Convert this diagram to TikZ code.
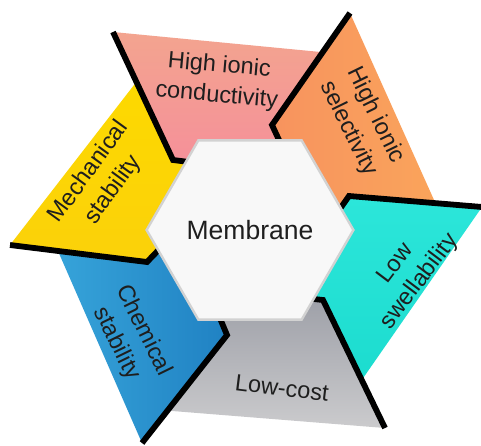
\documentclass[tikz,border=0pt]{standalone}
\usepackage{fontspec}
\setmainfont{Liberation Sans}
\usetikzlibrary{calc,shapes.geometric}

\definecolor{pinkTop}{HTML}{F3A48F}
\definecolor{pinkBot}{HTML}{F6869F}
\definecolor{orangeA}{HTML}{F7915F}
\definecolor{orangeB}{HTML}{FAA45B}
\definecolor{cyanTop}{HTML}{2CE6DA}
\definecolor{cyanBot}{HTML}{1CDCCF}
\definecolor{grayTop}{HTML}{878A95}
\definecolor{grayBot}{HTML}{CBCBCD}
\definecolor{blueL}{HTML}{36A3D9}
\definecolor{blueR}{HTML}{1D7DC0}
\definecolor{yellowTop}{HTML}{FDD900}
\definecolor{yellowBot}{HTML}{FBD10A}
\definecolor{hexFill}{HTML}{F8F8F8}
\definecolor{hexRim}{HTML}{D2D2D2}
\definecolor{labelInk}{HTML}{1E1E1E}

\begin{document}
\begin{tikzpicture}[x=1pt,y=-1pt,
  rim/.style={line width=5.8pt, black, line join=miter, line cap=butt},
  lbl/.style={font=\fontsize{23.5}{30}\selectfont, text=labelInk, align=center, inner sep=0pt},
  hexa/.style={regular polygon, regular polygon sides=6, minimum size=176pt,
    inner sep=0pt, fill=hexFill, draw=hexRim, line width=2.4pt,
    font=\fontsize{26.5}{30}\selectfont, text=labelInk},
]
\useasboundingbox (0,0) rectangle (481,445);
\fill[white] (0,0) rectangle (481,445);

% centre of the pinwheel
\coordinate (O) at (250,230);

% blade corners: A = outer end of the black rim, B = inner end, J = notch under the hub
\coordinate (Ap) at (113,32);  \coordinate (Bp) at (173,160); \coordinate (Jp) at (205,164);
\coordinate (Ao) at (350,13);  \coordinate (Bo) at (272,125); \coordinate (Jo) at (286,155);
\coordinate (Ac) at (482,207); \coordinate (Bc) at (349,196); \coordinate (Jc) at (330,223);
\coordinate (Ag) at (385,428); \coordinate (Bg) at (323,300); \coordinate (Jg) at (296,297);
\coordinate (Ab) at (142,443); \coordinate (Bb) at (227,335); \coordinate (Jb) at (214,304);
\coordinate (Ay) at (10,245);  \coordinate (By) at (147,262); \coordinate (Jy) at (170,238);

% trailing outer corners, lying on the next blade's rim
\coordinate (Tp) at ($(Ao)!0.35!(Bo)$);
\coordinate (To) at ($(Ac)!0.35!(Bc)$);
\coordinate (Tc) at ($(Ag)!0.375!(Bg)$);
\coordinate (Tg) at ($(Ab)!0.30!(Bb)$);
\coordinate (Tb) at ($(Ay)!0.35!(By)$);
\coordinate (Ty) at ($(Ap)!0.39!(Bp)$);

% blades
\shade[top color=pinkTop, bottom color=pinkBot]
  (Ap) -- (Bp) -- (Jp) -- (O) -- (Jo) -- (Bo) -- (Tp) -- cycle;
\shade[left color=orangeA, right color=orangeB]
  (Ao) -- (Bo) -- (Jo) -- (O) -- (Jc) -- (Bc) -- (To) -- cycle;
\shade[top color=cyanTop, bottom color=cyanBot]
  (Ac) -- (Bc) -- (Jc) -- (O) -- (Jg) -- (Bg) -- (Tc) -- cycle;
\shade[top color=grayTop, bottom color=grayBot]
  (Ag) -- (Bg) -- (Jg) -- (O) -- (Jb) -- (Bb) -- (Tg) -- cycle;
\shade[left color=blueL, right color=blueR]
  (Ab) -- (Bb) -- (Jb) -- (O) -- (Jy) -- (By) -- (Tb) -- cycle;
\shade[top color=yellowTop, bottom color=yellowBot]
  (Ay) -- (By) -- (Jy) -- (O) -- (Jp) -- (Bp) -- (Ty) -- cycle;

% black rims along the leading edges
\draw[rim] (Ap) -- (Bp) -- (Jp);
\draw[rim] (Ao) -- (Bo) -- (Jo);
\draw[rim] (Ac) -- (Bc) -- (Jc);
\draw[rim] (Ag) -- (Bg) -- (Jg);
\draw[rim] (Ab) -- (Bb) -- (Jb);
\draw[rim] (Ay) -- (By) -- (Jy);

% hub with a soft drop shadow
\fill[black, opacity=0.12] ($(O)+(2,3)$) +(0:90) -- +(60:90) -- +(120:90) -- +(180:90) -- +(240:90) -- +(300:90) -- cycle;
\node[hexa] (hub) at (O) {Membrane};

% labels
\node[lbl, rotate=-5]  (tPink)   at (218,81)  {High ionic\\conductivity};
\node[lbl, rotate=-64] (tOrange) at (362,122) {High ionic\\selectivity};
\node[lbl, rotate=53]  (tCyan)   at (408,273) {Low\\swellability};
\node[lbl, rotate=-7]  (tGray)   at (282,388) {Low-cost};
\node[lbl, rotate=-64] (tBlue)   at (130,337) {Chemical\\stability};
\node[lbl, rotate=54]  (tYellow) at (101,181) {Mechanical\\stability};
\end{tikzpicture}
\end{document}
